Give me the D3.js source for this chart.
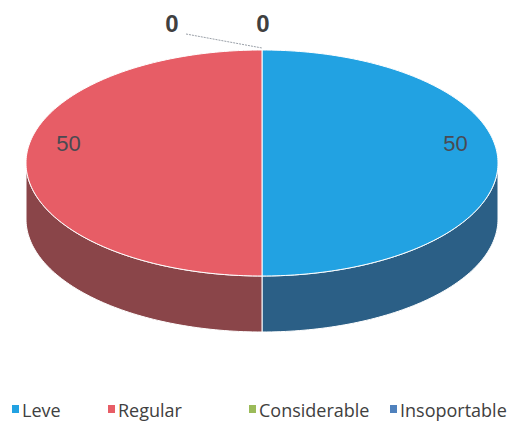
<!DOCTYPE html>
<html>
<head>
<meta charset="utf-8">
<script src="https://cdn.jsdelivr.net/npm/d3@7"></script>
<style>
body { margin: 0; background: #fff; }
svg { display: block; }
</style>
</head>
<body>
<svg id="chart" width="528" height="428"></svg>
<script>
// data
var categories = ["Leve", "Regular", "Considerable", "Insoportable"];
var values = [50, 50, 0, 0];
var topColors = ["#22a2e2", "#e75d66", "#9bbb59", "#4f81bd"];
var sideColors = ["#2b5f86", "#8a4549", "#6f8a3c", "#35587f"];

var svg = d3.select("#chart");
var cx = 262, cy = 163, rx = 236, ry = 113, depth = 56;

// angle 0 = top, clockwise
function px(a, k) { return cx + rx * (k || 1) * Math.sin(a); }
function py(a, k) { return cy - ry * (k || 1) * Math.cos(a); }

var pie = d3.pie().sort(null).startAngle(0).endAngle(2 * Math.PI);
var arcs = pie(values);

function arcPoints(a0, a1, dy) {
  var n = Math.max(2, Math.ceil((a1 - a0) / 0.02));
  return d3.range(n + 1).map(function(i) {
    var a = a0 + (a1 - a0) * i / n;
    return [px(a), py(a) + (dy || 0)];
  });
}

var line = d3.line();

// sides (front visible between PI/2 and 3PI/2)
var g = svg.append("g");
arcs.forEach(function(d, i) {
  var a0 = Math.max(d.startAngle, Math.PI / 2);
  var a1 = Math.min(d.endAngle, 3 * Math.PI / 2);
  if (a1 <= a0) return;
  var pts = arcPoints(a0, a1, 0).concat(arcPoints(a0, a1, depth).reverse());
  g.append("path")
    .attr("d", line(pts) + "Z")
    .attr("fill", sideColors[i])
    .attr("stroke", "#ffffff")
    .attr("stroke-width", 1);
});

// top faces
arcs.forEach(function(d, i) {
  if (d.endAngle - d.startAngle <= 0) return;
  var pts = [[cx, cy]].concat(arcPoints(d.startAngle, d.endAngle, 0));
  g.append("path")
    .attr("d", line(pts) + "Z")
    .attr("fill", topColors[i])
    .attr("stroke", "#ffffff")
    .attr("stroke-width", 1);
});

// data labels
arcs.forEach(function(d, i) {
  var mid = (d.startAngle + d.endAngle) / 2;
  if (d.value > 0) {
    svg.append("text")
      .attr("x", px(mid, 0.82))
      .attr("y", py(mid, 0.82) - 12)
      .attr("text-anchor", "middle")
      .attr("font-family", "Liberation Sans, Arial, sans-serif")
      .attr("font-size", 22)
      .attr("fill", "#4a4a52")
      .text(d.value);
  }
});

// zero labels at the top with leader line
var topX = px(0), topY = py(0);
var zeroLabels = arcs.filter(function(d) { return d.value === 0; });
var zeroX = [172, 263];
zeroLabels.forEach(function(d, j) {
  svg.append("text")
    .attr("x", zeroX[j])
    .attr("y", 32)
    .attr("text-anchor", "middle")
    .attr("font-family", "Liberation Sans, Arial, sans-serif")
    .attr("font-weight", "bold")
    .attr("font-size", 24)
    .attr("fill", "#404040")
    .text(d.value);
});
svg.append("path")
  .attr("d", line([[186, 34], [topX, topY - 2]]))
  .attr("fill", "none")
  .attr("stroke", "#9aa0a8")
  .attr("stroke-width", 1)
  .attr("stroke-dasharray", "2,1");

// legend
var legendX = [12, 108, 249, 390];
var legend = svg.append("g");
categories.forEach(function(c, i) {
  legend.append("rect")
    .attr("x", legendX[i])
    .attr("y", 405)
    .attr("width", 7)
    .attr("height", 8)
    .attr("fill", topColors[i]);
  legend.append("text")
    .attr("x", legendX[i] + 10)
    .attr("y", 417)
    .attr("font-family", "Open Sans, sans-serif")
    .attr("font-size", 18)
    .attr("fill", "#404040")
    .text(c);
});
</script>
</body>
</html>
